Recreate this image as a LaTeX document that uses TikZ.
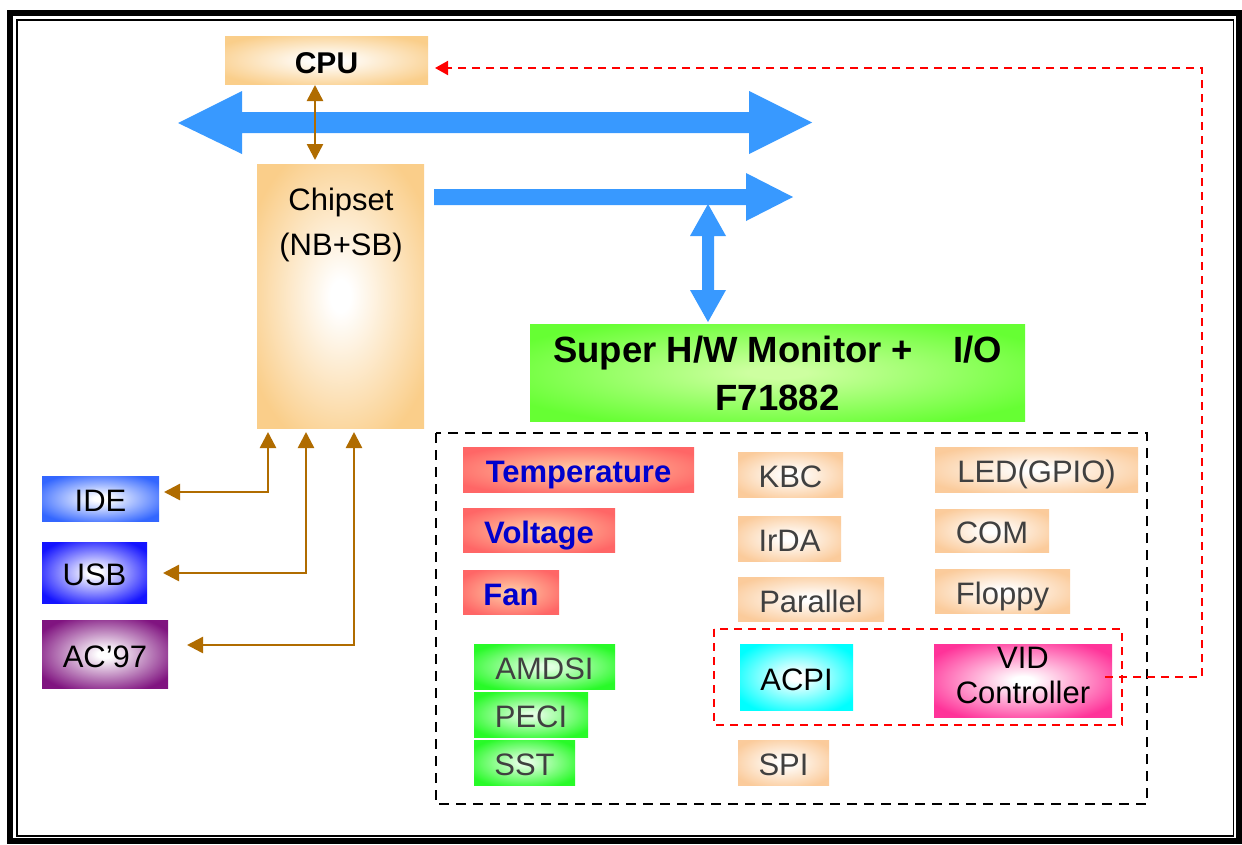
\documentclass[tikz,border=0pt]{standalone}
\usepackage{fontspec}
\setmainfont{Liberation Sans}
\usetikzlibrary{arrows.meta}
\colorlet{shin}{white}
\colorlet{shout}{black}
\pgfdeclareradialshading[shin,shout]{softbox}{\pgfpointorigin}{color(0bp)=(shin); color(3bp)=(shin); color(30bp)=(shout); color(50bp)=(shout)}
\definecolor{orangeA}{RGB}{250,206,138}
\definecolor{peach}{RGB}{251,203,155}
\definecolor{redA}{RGB}{255,102,102}
\definecolor{redIn}{RGB}{255,196,160}
\definecolor{greenA}{RGB}{40,250,40}
\definecolor{greenIn}{RGB}{225,255,225}
\definecolor{limeA}{RGB}{102,255,51}
\definecolor{limeIn}{RGB}{205,255,160}
\definecolor{cyanA}{RGB}{0,255,255}
\definecolor{pinkA}{RGB}{255,51,153}
\definecolor{ideblue}{RGB}{51,102,255}
\definecolor{usbblue}{RGB}{20,20,255}
\definecolor{acpurple}{RGB}{128,20,128}
\definecolor{busblue}{RGB}{56,153,255}
\definecolor{brownA}{RGB}{176,108,0}
\definecolor{txtgray}{RGB}{64,64,64}
\definecolor{tempblue}{RGB}{0,0,204}
\newcommand\mybox[7]{\node[box,#6,minimum width={(#4-#2)*1pt},minimum height={(#5-#3)*1pt}] (#1) at (#2,#3) {#7};}
\begin{document}
\begin{tikzpicture}[x=1pt,y=-1pt,
  sh/.style 2 args={/utils/exec={\colorlet{shin}{#1}\colorlet{shout}{#2}}},
  box/.style={inner sep=0pt, outer sep=0pt, anchor=north west, shading=softbox,
    font=\fontsize{31}{36}\selectfont, text height=26pt, text depth=0pt},
  graytxt/.style={text=txtgray},
  redtxt/.style={text=tempblue, font=\fontsize{31}{36}\selectfont\bfseries},
  brarrow/.style={draw=brownA, line width=2.5pt, {Triangle[length=16pt,width=16pt]}-{Triangle[length=16pt,width=16pt]}},
  blackdash/.style={draw=black, line width=2.5pt, dash pattern=on 10pt off 7pt},
  reddash/.style={draw=red, line width=2pt, dash pattern=on 8pt off 6pt},
  bus/.style={fill=busblue}
]
\useasboundingbox (0,0) rectangle (1242,844);
\fill[white] (0,0) rectangle (1242,844);
% frame
\draw[line width=6pt] (9.5,12.5) rectangle (1238.5,841);
\draw[line width=1.5pt] (16.8,20) rectangle (1233.5,836);

% boxes
\mybox{cpu}{225}{36}{428}{84}{sh={white}{orangeA},font=\fontsize{30}{36}\selectfont\bfseries}{CPU}
\mybox{chip}{257}{164}{424}{428}{sh={white}{orangeA}}{}
\node[font=\fontsize{31}{45}\selectfont, align=center, inner sep=0pt] (chiplbl) at (341,225) {Chipset\\(NB+SB)};

\mybox{ide}{42}{476}{159}{521}{sh={white}{ideblue}}{IDE}
\mybox{usb}{42}{542}{147}{603}{sh={white}{usbblue}}{USB}
\mybox{ac}{42}{620}{168}{688}{sh={white}{acpurple}}{AC’97}

\mybox{sio}{530}{324}{1025}{421}{sh={limeIn}{limeA}}{}
\node[font=\fontsize{36.5}{48}\selectfont\bfseries, align=center, inner sep=0pt] (siolbl) at (777.5,373.5) {Super H/W Monitor +\hspace{40pt}I/O\\F71882};

\draw[blackdash] (436,433) rectangle (1147,804);
\draw[reddash] (714,629) rectangle (1122,725);

\mybox{temp}{463}{447}{694}{492}{sh={redIn}{redA},redtxt}{Temperature}
\mybox{volt}{463}{508}{615}{552}{sh={redIn}{redA},redtxt}{Voltage}
\mybox{fan}{463}{570}{559}{614}{sh={redIn}{redA},redtxt}{Fan}

\mybox{amdsi}{474}{644}{615}{689}{sh={greenIn}{greenA},graytxt}{AMDSI}
\mybox{peci}{474}{692}{588}{737}{sh={greenIn}{greenA},graytxt}{PECI}
\mybox{sst}{474}{740}{575}{785}{sh={greenIn}{greenA},graytxt}{SST}

\mybox{kbc}{738}{452}{843}{497}{sh={white}{peach},graytxt}{KBC}
\mybox{irda}{738}{516}{841}{561}{sh={white}{peach},graytxt}{IrDA}
\mybox{par}{738}{577}{884}{621}{sh={white}{peach},graytxt}{Parallel}
\mybox{spi}{738}{740}{829}{785}{sh={white}{peach},graytxt}{SPI}

\mybox{led}{935}{447}{1138}{492}{sh={white}{peach},graytxt}{LED(GPIO)}
\mybox{com}{935}{509}{1049}{552}{sh={white}{peach},graytxt}{COM}
\mybox{flop}{935}{569}{1070}{613}{sh={white}{peach},graytxt}{Floppy}

\mybox{acpi}{740}{644}{853}{710}{sh={white}{cyanA}}{ACPI}
\mybox{vid}{934}{644}{1112}{717}{sh={white}{pinkA}}{}
\node[font=\fontsize{31}{35}\selectfont, align=center, inner sep=0pt] (vidlbl) at (1023,675) {VID\\Controller};

% buses
\fill[bus] (178,123) -- (242,91) -- (242,112) -- (749,112) -- (749,91) -- (812,122.5) -- (749,154) -- (749,133) -- (242,133) -- (242,154) -- cycle;
\fill[bus] (434,189) -- (746,189) -- (746,173) -- (793,197) -- (746,221) -- (746,205) -- (434,205) -- cycle;
\fill[bus] (708,204) -- (726,236) -- (714,236) -- (714,290) -- (726,290) -- (708,322) -- (690,290) -- (702,290) -- (702,236) -- (690,236) -- cycle;

% brown connectors
\coordinate (xc) at (315,0);
\coordinate (x1) at (268,492);
\coordinate (x2) at (306,573);
\coordinate (x3) at (354,645);
\draw[brarrow, shorten <=1pt, shorten >=4pt] (cpu.south -| xc) -- (chip.north -| xc);
\draw[brarrow, shorten <=5pt, shorten >=4pt] (ide.east |- x1) -| (chip.south -| x1);
\draw[brarrow, shorten <=16pt, shorten >=4pt] (usb.east |- x2) -| (chip.south -| x2);
\draw[brarrow, shorten <=19pt, shorten >=4pt] (ac.east |- x3) -| (chip.south -| x3);

% red dashed VID -> CPU
\coordinate (rc) at (1202,68);
\coordinate (ry) at (0,677);
\draw[reddash, -{Triangle[length=13pt,width=14pt]}, shorten >=7pt] ([xshift=-7pt]vid.east |- ry) -| (rc) -- (cpu.east |- rc);
\end{tikzpicture}
\end{document}
